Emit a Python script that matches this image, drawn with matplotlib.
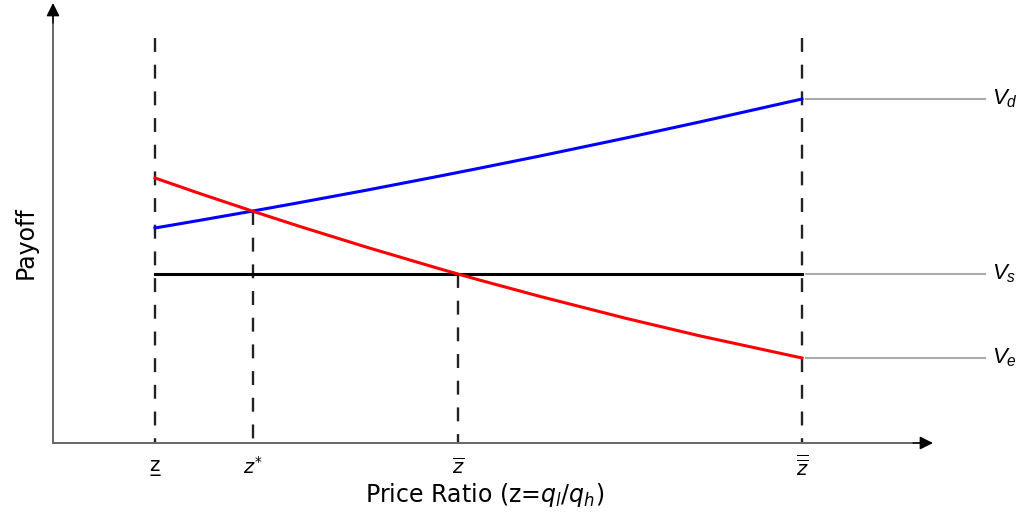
import numpy as np
import matplotlib
matplotlib.use('Agg')
from matplotlib import pyplot as plt

# threshold positions on the price-ratio axis
Z_POS = [1.02, 2.00, 4.05, 7.49]
Z_TOP = [4.05, 2.32, 1.69, 4.05]   # where each dashed guide starts
Z_LABELS = ['z\u0332', r'$z^{*}$', r'$\overline{z}$', r'$\overline{\overline{z}}$']

# payoff curves
VD_X = [1.02, 1.47, 2.00, 2.47, 3.14, 3.87, 4.27, 4.87, 5.72, 6.47, 7.49]
VD_Y = [2.150, 2.227, 2.320, 2.405, 2.529, 2.670, 2.749, 2.870, 3.048, 3.211, 3.440]
VE_X = [1.02, 1.47, 2.00, 2.47, 3.14, 3.87, 4.05, 4.27, 4.87, 5.72, 6.47, 7.49]
VE_Y = [2.650, 2.494, 2.317, 2.165, 1.957, 1.741, 1.690, 1.628, 1.466, 1.249, 1.071, 0.850]
VS_X = [1.02, 7.49]
VS_Y = [1.69, 1.69]

CURVE_LABELS = [r'$V_d$', r'$V_s$', r'$V_e$']

plt.rcParams['mathtext.fontset'] = 'custom'
plt.rcParams['mathtext.it'] = 'Liberation Sans:italic'
plt.rcParams['mathtext.rm'] = 'Liberation Sans'

fig = plt.figure(figsize=(10.18, 5.16), dpi=100)
ax = fig.add_axes([53 / 1018, 73 / 516, 880 / 1018, 440 / 516])
ax.set_xlim(0, 8.8)
ax.set_ylim(0, 4.4)
ax.axis('off')

# axes: grey shafts with black heads
ax.plot([0, 8.7], [0, 0], color='#666666', lw=1.4, clip_on=False)
ax.plot([0, 0], [0, 4.3], color='#666666', lw=1.4, clip_on=False)
head = dict(arrowstyle='-|>', color='black', lw=1.0, mutation_scale=20,
            shrinkA=0, shrinkB=0)
ax.annotate('', xy=(8.8, 0), xytext=(8.6, 0), arrowprops=head, annotation_clip=False)
ax.annotate('', xy=(0, 4.4), xytext=(0, 4.2), arrowprops=head, annotation_clip=False)

# vertical dashed guides, drawn top-down
for z, top in zip(Z_POS, Z_TOP):
    ax.plot([z, z], [top, 0], color='#222222', lw=1.7, ls=(0, (5.9, 5.4)), zorder=1)

ax.plot(VS_X, VS_Y, color='black', lw=2.2, zorder=3)
ax.plot(VD_X, VD_Y, color='#0000ff', lw=2.2, zorder=3)
ax.plot(VE_X, VE_Y, color='#ff0000', lw=2.2, zorder=3)

# leader lines and labels on the right
ends = [VD_Y[-1], VS_Y[-1], VE_Y[-1]]
for yv, lab in zip(ends, CURVE_LABELS):
    ax.plot([7.53, 9.32], [yv, yv], color='#aaaaaa', lw=1.5, clip_on=False)
    ax.text(9.39, yv, lab, fontsize=16, va='center', ha='left',
            math_fontfamily='custom', clip_on=False)

# tick labels under the axis
for z, lab in zip(Z_POS, Z_LABELS):
    ax.text(z, -0.24, lab, fontsize=14, ha='center', va='center',
            math_fontfamily='dejavusans')

ax.text(4.32, -0.52, r'Price Ratio (z=$q_l$/$q_h$)', fontsize=17, ha='center',
        va='center', math_fontfamily='dejavusans')
ax.text(-0.27, 2.0, 'Payoff', fontsize=17, rotation=90, ha='center', va='center')

plt.savefig('out.png', dpi=100)
